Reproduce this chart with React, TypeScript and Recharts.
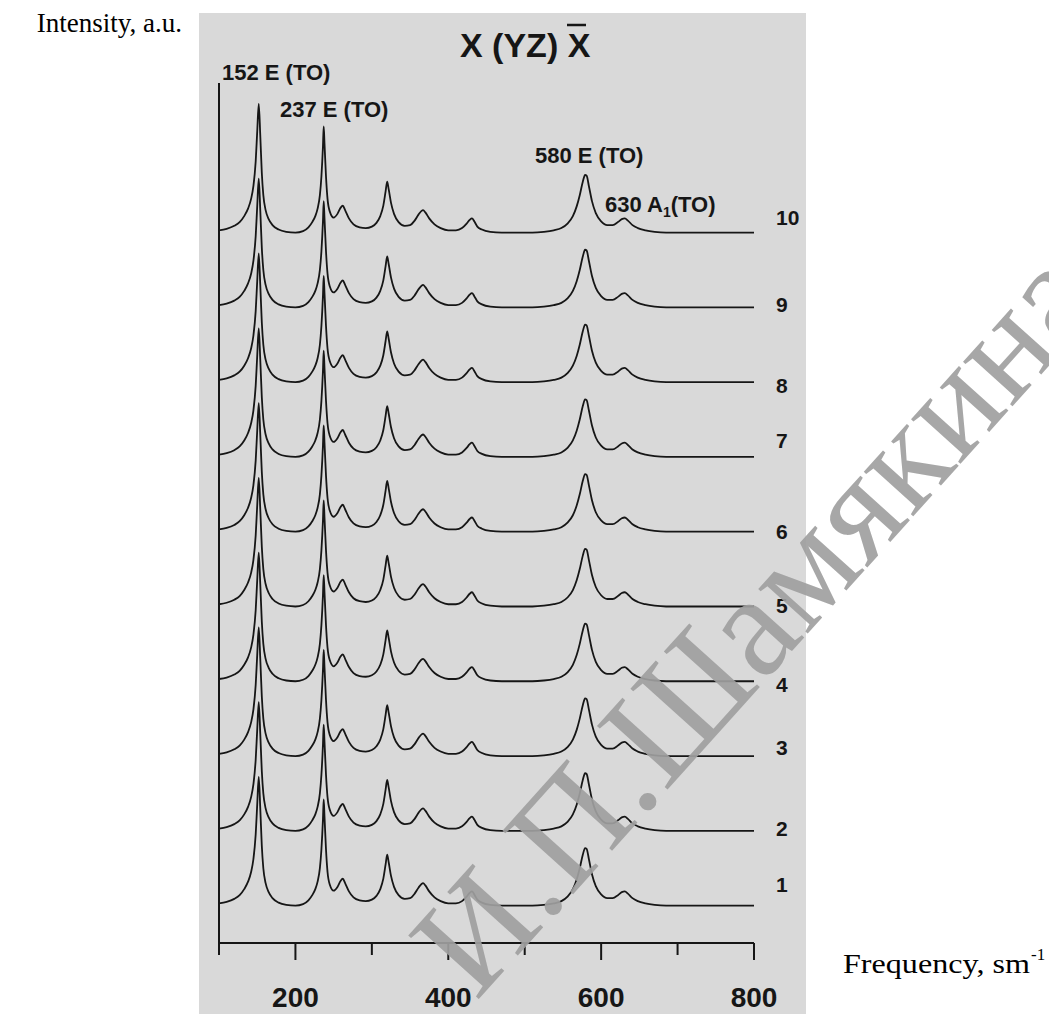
import { LineChart, Line, XAxis, YAxis } from "recharts";

// Raman shift grid, cm-1
const freq = [
  100, 110, 120, 127, 133, 138, 142, 145, 148, 150, 152, 154, 156, 158, 161, 165, 170, 178, 188, 200,
  210, 217, 222, 226, 229, 232, 234, 236, 237, 238, 240, 242, 245, 250, 255, 259, 262, 265, 270, 276,
  284, 292, 300, 306, 311, 315, 318, 320, 322, 325, 329, 335, 343, 350, 356, 361, 365, 367, 370, 375,
  382, 390, 400, 410, 418, 424, 428, 431, 434, 438, 444, 455, 470, 490, 510, 525, 538, 548, 556, 563,
  568, 572, 576, 579, 581, 584, 588, 593, 600, 608, 615, 622, 627, 631, 635, 641, 648, 658, 670, 685,
  710, 740, 770, 800,
];

// intensity above each trace's own baseline (same shape for every sample)
const spectrum = [
  0.03, 0.05, 0.09, 0.14, 0.22, 0.32, 0.45, 0.62, 0.95, 1.35, 1.72, 1.3, 0.8, 0.5, 0.3, 0.18, 0.1, 0.04, 0.01, 0.0,
  0.02, 0.07, 0.14, 0.22, 0.32, 0.5, 0.75, 1.15, 1.42, 1.2, 0.75, 0.45, 0.28, 0.2, 0.25, 0.33, 0.36, 0.3, 0.19, 0.11,
  0.07, 0.06, 0.08, 0.13, 0.22, 0.36, 0.55, 0.68, 0.58, 0.4, 0.25, 0.14, 0.09, 0.1, 0.16, 0.24, 0.29, 0.3, 0.27, 0.19,
  0.11, 0.06, 0.03, 0.03, 0.06, 0.12, 0.17, 0.19, 0.15, 0.08, 0.04, 0.01, 0.0, 0.0, 0.0, 0.01, 0.03, 0.06, 0.12, 0.22,
  0.35, 0.5, 0.68, 0.77, 0.76, 0.62, 0.42, 0.26, 0.15, 0.1, 0.1, 0.14, 0.18, 0.19, 0.16, 0.1, 0.06, 0.03, 0.01, 0.0,
  0.0, 0.0, 0.0, 0.0,
];

const traceLabels = ["1", "2", "3", "4", "5", "6", "7", "8", "9", "10"];
const traceBaselines = [0.5, 1.5, 2.5, 3.5, 4.5, 5.5, 6.5, 7.5, 8.5, 9.5];
// small vertical nudges (px) of the sample numbers at the right end
const labelNudge = [-21, -2, -9, 3, -1, 0, -16, 3, -3, -15];

const freqTicks = [100, 200, 300, 400, 500, 600, 700, 800];
const freqTickLabels = [200, 400, 600, 800];
const intensityTicks = [
  0, 0.5, 1, 1.5, 2, 2.5, 3, 3.5, 4, 4.5, 5, 5.5, 6, 6.5, 7, 7.5, 8, 8.5, 9, 9.5, 10, 10.5, 11, 11.5,
];

const data = freq.map((f, i) => {
  const row: Record<string, number> = { freq: f };
  traceLabels.forEach((name, k) => {
    row[`t${name}`] = traceBaselines[k] + spectrum[i];
  });
  return row;
});

const INK = "#161616";
const SANS = "'Liberation Sans', Arial, sans-serif";
const SERIF = "'Liberation Serif', 'Times New Roman', serif";

function FreqTick({ x, y, payload }: any) {
  const v = payload.value;
  const major = freqTickLabels.includes(v);
  return (
    <g>
      <line x1={x} x2={x} y1={y} y2={y + (major ? 17 : 12)} stroke={INK} strokeWidth={2} />
      {major && (
        <text x={x} y={y + 64} textAnchor="middle" fontFamily={SANS} fontWeight="bold" fontSize={28} fill={INK}>
          {v}
        </text>
      )}
    </g>
  );
}

export default function App() {
  const last = freq.length - 1;
  return (
    <div style={{ position: "absolute", left: 0, top: 0, width: 1049, height: 1014, background: "#fff" }}>
      <div style={{ position: "absolute", left: 199, top: 13, width: 607, height: 1001, background: "#d9d9d9" }} />
      <div style={{ position: "absolute", left: 0, top: 0 }}>
        <LineChart width={1049} height={1014} data={data} margin={{ top: 83, right: 295, bottom: 0, left: 209 }}>
          <XAxis
            dataKey="freq"
            type="number"
            domain={[100, 800]}
            ticks={freqTicks}
            interval={0}
            height={71}
            tickSize={0}
            tickMargin={0}
            tickLine={false}
            axisLine={{ stroke: INK, strokeWidth: 2 }}
            tick={<FreqTick />}
          />
          <YAxis
            type="number"
            domain={[0, 11.5]}
            ticks={intensityTicks}
            interval={0}
            width={10}
            tick={false}
            tickSize={6}
            tickLine={{ stroke: INK, strokeWidth: 1.5 }}
            axisLine={{ stroke: INK, strokeWidth: 2 }}
          />
          {traceLabels.map((name, k) => (
            <Line
              key={name}
              dataKey={`t${name}`}
              type="monotone"
              stroke={INK}
              strokeWidth={1.8}
              isAnimationActive={false}
              activeDot={false}
              dot={(p: any) =>
                p.index === last ? (
                  <text
                    key={`n${name}`}
                    x={p.cx + 22}
                    y={p.cy + labelNudge[k]}
                    dominantBaseline="central"
                    fontFamily={SANS}
                    fontWeight="bold"
                    fontSize={21}
                    fill={INK}
                  >
                    {name}
                  </text>
                ) : (
                  <g key={`d${name}-${p.index}`} />
                )
              }
            />
          ))}
        </LineChart>
      </div>
      <svg width={1049} height={1014} style={{ position: "absolute", left: 0, top: 0, pointerEvents: "none" }}>
        <text x={182} y={32} textAnchor="end" fontFamily={SERIF} fontSize={27} fill="#000">
          Intensity, a.u.
        </text>
        <text x={843} y={973} fontFamily={SERIF} fontSize={28} fill="#000" textLength={187} lengthAdjust="spacingAndGlyphs">
          Frequency, sm
        </text>
        <text x={1031} y={960} fontFamily={SERIF} fontSize={17} fill="#000">
          -1
        </text>

        <text x={460} y={57} fontFamily={SANS} fontWeight="bold" fontSize={34} fill={INK}>
          X (YZ) X
        </text>
        <line x1={567} x2={586} y1={25} y2={25} stroke={INK} strokeWidth={2.5} />

        <g fontFamily={SANS} fontWeight="bold" fontSize={22} fill={INK}>
          <text x={222} y={80}>152 E (TO)</text>
          <text x={280} y={117}>237 E (TO)</text>
          <text x={535} y={163}>580 E (TO)</text>
          <text x={605} y={212}>
            630 A
            <tspan fontSize={14} dy={5}>1</tspan>
            <tspan dy={-5}>(TO)</tspan>
          </text>
        </g>

        <text
          transform="translate(476,1002) rotate(-48)"
          fontFamily={SERIF}
          fontSize={145}
          fill="#a0a0a0"
          fillOpacity={0.92}
        >
          И.П.Шамякина
        </text>
      </svg>
    </div>
  );
}
